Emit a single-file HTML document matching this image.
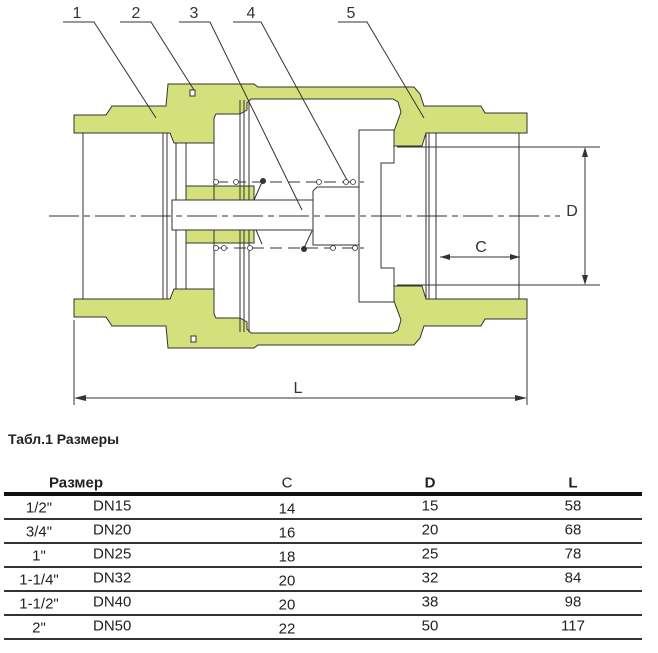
<!DOCTYPE html>
<html><head><meta charset="utf-8"><style>
html,body{margin:0;padding:0;background:#fff;}
body{width:658px;height:653px;position:relative;overflow:hidden;font-family:"Liberation Sans Narrow","Liberation Sans",sans-serif;}
svg{position:absolute;left:0;top:0;}
.t{position:absolute;font-size:15px;color:#222;white-space:nowrap;transform:translate(-50%,-50%);}
.l{transform:translate(0,-50%);}
.hr{position:absolute;left:4px;width:638px;height:2px;background:#333;}
</style></head><body>
<svg width="658" height="420" viewBox="0 0 658 420" xmlns="http://www.w3.org/2000/svg" font-family="Liberation Sans, sans-serif">
<g stroke="#333" stroke-width="1" fill="#d3e07c">
<polygon points="74,115 106,115 112,106 166,106 168,84 254,84 258,87 414,87 420,94 424,106 481,106 485,113 527,113 527,133 426,133 422,146 394,146 394,131 401,112 398,102 393,99 251,99 247,103 247,110 240,114 216,114 214,118 214,143 174,143 170,133 74,133"/>
<polygon points="74,317 106,317 112,326 166,326 168,348 254,348 258,345 414,345 420,338 424,326 481,326 485,319 527,319 527,299 426,299 422,286 394,286 394,301 401,320 398,330 393,333 251,333 247,329 247,322 240,318 216,318 214,314 214,289 174,289 170,299 74,299"/>
<rect x="186" y="186" width="68" height="14"/>
<rect x="186" y="230" width="68" height="13"/>
</g>
<g fill="#fff" stroke="#333" stroke-width="1">
<rect x="190" y="90" width="5" height="6"/>
<rect x="191" y="336" width="5" height="6"/>
</g>
<g stroke="#333" stroke-width="1" fill="none">
<line x1="83" y1="133" x2="83" y2="299"/>
<line x1="163" y1="133" x2="163" y2="299"/>
<line x1="167" y1="133" x2="167" y2="299"/>
<rect x="176" y="143" width="10" height="146"/>
<line x1="214" y1="143" x2="214" y2="289"/>
<line x1="240" y1="100" x2="240" y2="332"/>
<line x1="244" y1="100" x2="244" y2="332"/>
<line x1="249" y1="100" x2="249" y2="332"/>
<line x1="426" y1="133" x2="426" y2="299"/>
<line x1="429" y1="133" x2="429" y2="299"/>
<line x1="436" y1="133" x2="436" y2="299"/>
<line x1="519" y1="133" x2="519" y2="299"/>
<polygon points="359,130 394,130 394,163 381,163 381,268 394,268 394,302 359,302" fill="#fff"/>
<rect x="172" y="200" width="141" height="30" fill="#fff"/>
<polygon points="317,187 359,187 359,245 313,245 313,191" fill="#fff"/>
<line x1="216" y1="182" x2="364" y2="182" stroke-dasharray="12,6"/>
<line x1="216" y1="248" x2="364" y2="248" stroke-dasharray="12,6"/>
<line x1="49" y1="216" x2="560" y2="216" stroke-dasharray="30,5,6,5"/>
<line x1="254" y1="200" x2="262" y2="182"/>
<line x1="256" y1="230" x2="262" y2="244"/>
<line x1="304" y1="248" x2="312" y2="231"/>
<!-- leaders -->
<polyline points="63,22 94,22 156,118"/>
<polyline points="120,22 151,22 194,90"/>
<polyline points="179,22 210,22 302,210"/>
<polyline points="233,22 261,22 347,180"/>
<polyline points="338,22 367,22 424,118"/>
<!-- dims -->
<line x1="397" y1="147" x2="600" y2="147"/>
<line x1="397" y1="285" x2="600" y2="285"/>
<line x1="585" y1="150" x2="585" y2="282"/>
<line x1="440" y1="257" x2="520" y2="257"/>
<line x1="74" y1="320" x2="74" y2="405"/>
<line x1="527" y1="320" x2="527" y2="405"/>
<line x1="77" y1="398" x2="524" y2="398"/>
</g>
<g fill="#333">
<polygon points="585,147 582,157 588,157"/>
<polygon points="585,285 582,275 588,275"/>
<polygon points="440,257 450,254 450,260"/>
<polygon points="520,257 510,254 510,260"/>
<polygon points="74,398 86,395 86,401"/>
<polygon points="527,398 515,395 515,401"/>
<circle cx="263" cy="181" r="3"/><circle cx="304" cy="249" r="3"/>
</g>
<g fill="#fff" stroke="#333" stroke-width="0.8">
<circle cx="216" cy="182" r="2.5"/><circle cx="236" cy="182" r="2.5"/><circle cx="319" cy="182" r="2.5"/><circle cx="346" cy="182" r="2.5"/><circle cx="353" cy="182" r="2.5"/>
<circle cx="216" cy="248" r="2.5"/><circle cx="224" cy="248" r="2.5"/><circle cx="250" cy="248" r="2.5"/><circle cx="333" cy="248" r="2.5"/><circle cx="355" cy="248" r="2.5"/>
</g>
<g font-size="16" fill="#333" text-anchor="middle">
<text x="77" y="18">1</text><text x="136" y="18">2</text><text x="194" y="18">3</text><text x="251" y="18">4</text><text x="351" y="18">5</text>
<text x="572" y="216">D</text><text x="481" y="252">C</text><text x="298" y="393">L</text>
</g>
</svg>
<div class="t l" style="left:8px;top:439px;font-weight:bold;font-size:14px;">Табл.1 Размеры</div>
<div class="t" style="left:76px;top:483px;font-weight:bold;">Размер</div>
<div class="t" style="left:287px;top:483px;">C</div>
<div class="t" style="left:430px;top:483px;font-weight:bold;">D</div>
<div class="t" style="left:573px;top:483px;font-weight:bold;">L</div>
<div class="hr" style="top:492px;height:4px;background:#111;"></div>
<div class="hr" style="top:518px;"></div>
<div class="hr" style="top:542px;"></div>
<div class="hr" style="top:566px;"></div>
<div class="hr" style="top:590px;"></div>
<div class="hr" style="top:614px;"></div>
<div class="hr" style="top:638px;"></div>

<div class="t" style="left:39px;top:508px;">1/2"</div><div class="t l" style="left:93px;top:506px;">DN15</div><div class="t" style="left:287px;top:509px;">14</div><div class="t" style="left:430px;top:506px;">15</div><div class="t" style="left:573px;top:506px;">58</div>
<div class="t" style="left:39px;top:532px;">3/4"</div><div class="t l" style="left:93px;top:530px;">DN20</div><div class="t" style="left:287px;top:533px;">16</div><div class="t" style="left:430px;top:530px;">20</div><div class="t" style="left:573px;top:530px;">68</div>
<div class="t" style="left:39px;top:556px;">1"</div><div class="t l" style="left:93px;top:554px;">DN25</div><div class="t" style="left:287px;top:557px;">18</div><div class="t" style="left:430px;top:554px;">25</div><div class="t" style="left:573px;top:554px;">78</div>
<div class="t" style="left:39px;top:580px;">1-1/4"</div><div class="t l" style="left:93px;top:578px;">DN32</div><div class="t" style="left:287px;top:581px;">20</div><div class="t" style="left:430px;top:578px;">32</div><div class="t" style="left:573px;top:578px;">84</div>
<div class="t" style="left:39px;top:604px;">1-1/2"</div><div class="t l" style="left:93px;top:602px;">DN40</div><div class="t" style="left:287px;top:605px;">20</div><div class="t" style="left:430px;top:602px;">38</div><div class="t" style="left:573px;top:602px;">98</div>
<div class="t" style="left:39px;top:628px;">2"</div><div class="t l" style="left:93px;top:626px;">DN50</div><div class="t" style="left:287px;top:629px;">22</div><div class="t" style="left:430px;top:626px;">50</div><div class="t" style="left:573px;top:626px;">117</div>
</body></html>
